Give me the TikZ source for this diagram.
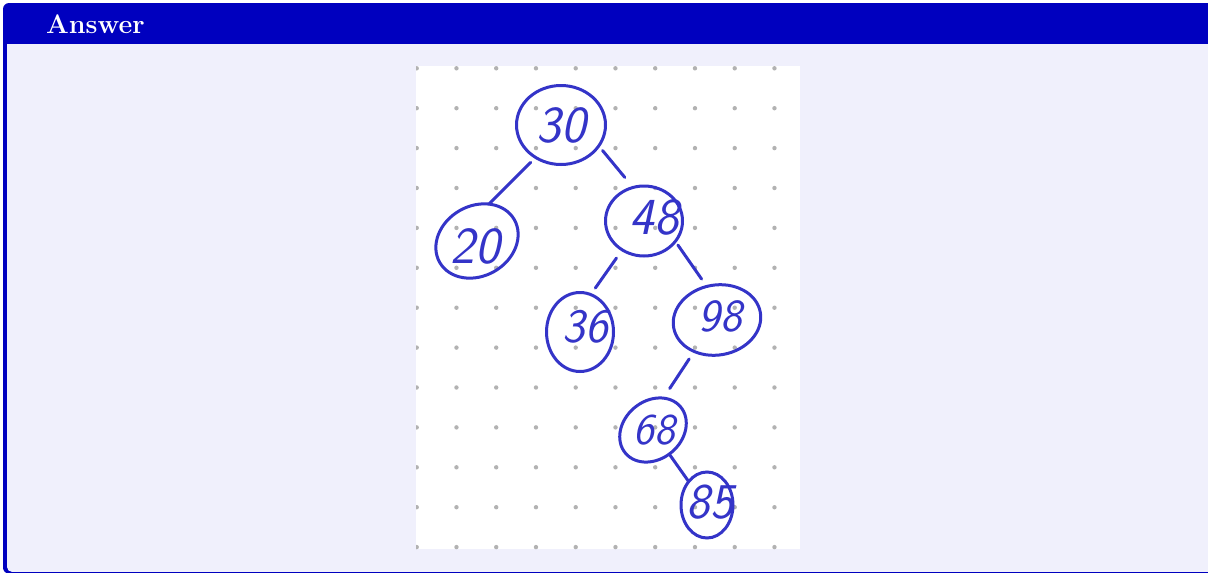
\documentclass[tikz,border=0pt]{standalone}
\usetikzlibrary{shapes.geometric}
\definecolor{titleblue}{RGB}{0,0,191}
\definecolor{panelbg}{RGB}{240,240,252}
\definecolor{ink}{RGB}{52,52,200}
\definecolor{dotgray}{RGB}{178,178,178}
\begin{document}
\begin{tikzpicture}[x=1pt,y=-1pt,
  oval/.style={ellipse, draw=ink, line width=3pt, inner sep=0pt, outer sep=0pt},
  digits/.style={text=ink, inner sep=0pt, font=\fontsize{#1}{#1}\selectfont\sffamily\itshape},
  digits/.default=48,
  link/.style={draw=ink, line width=3pt, line cap=round}]
\useasboundingbox (0,0) rectangle (1208,573);
\clip (0,0) rectangle (1208,573);
% frame
\fill[titleblue, rounded corners=6pt] (3,3) rectangle (1240,573.6);
\fill[panelbg, rounded corners=5pt] (7,44) rectangle (1240,571.9);
\fill[panelbg] (7,44) rectangle (20,60);
\node[anchor=base west, text=white, inner sep=0pt, font=\fontsize{26.8}{30}\selectfont\bfseries] (title) at (46,33) {Answer};
% dotted paper
\begin{scope}
\clip (416,66) rectangle (800,549);
\fill[white] (416,66) rectangle (800,549);
\foreach \i in {0,...,9}
  \foreach \j in {0,...,12}
    \fill[dotgray] (416.7+39.75*\i, 68.3+39.9*\j) circle (2.2pt);
\end{scope}
% ovals
\node[oval, minimum width=89pt, minimum height=79pt] (n30) at (561,125) {};
\node[oval, minimum width=86pt, minimum height=70pt, rotate=30] (n20) at (477,241) {};
\node[oval, minimum width=77pt, minimum height=70pt] (n48) at (644,221) {};
\node[oval, minimum width=67pt, minimum height=79pt] (n36) at (580,332) {};
\node[oval, minimum width=88pt, minimum height=70pt, rotate=10] (n98) at (717,320) {};
\node[oval, minimum width=72pt, minimum height=58pt, rotate=40] (n68) at (653,430) {};
\node[oval, minimum width=52pt, minimum height=66pt] (n85) at (707,505) {};
% numbers
\node[digits=52] (t30) at (561,125) {30};
\node[digits=52] (t20) at (475,246) {20};
\node[digits=52] (t48) at (654,217) {48};
\node[digits=48] (t36) at (585,327) {36};
\node[digits=46] (t98) at (720,316) {98};
\node[digits=44] (t68) at (654,430) {68};
\node[digits=50] (t85) at (710,502) {85};
% connectors
\draw[link, shorten <=7pt] (n30.232) -- (n20.42);
\draw[link, shorten <=6pt, shorten >=13pt] (n30.331) -- (n48.108);
\draw[link, shorten <=10pt, shorten >=8pt] (n48.233) -- (n36.74);
\draw[link, shorten <=4.5pt, shorten >=9pt] (n48.327) -- (n98.97);
\draw[link, shorten <=9pt, shorten >=11.5pt] (n98.224) -- (n68.32);
\draw[link] (n68.264) -- (n85.128);
\end{tikzpicture}
\end{document}
